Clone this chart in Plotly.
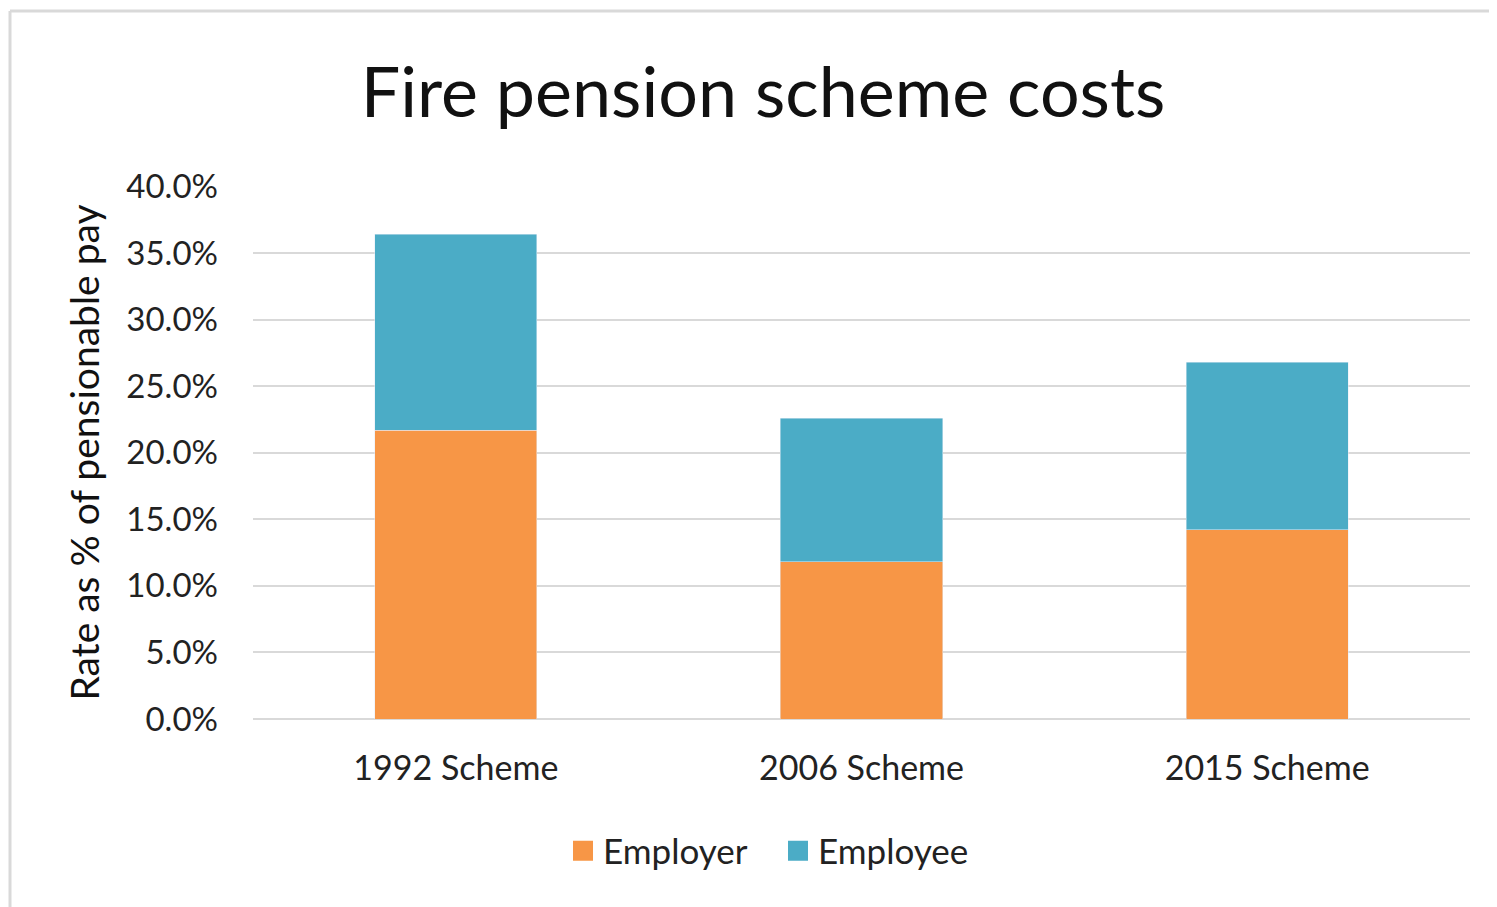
import plotly.graph_objects as go

categories = ["1992 Scheme", "2006 Scheme", "2015 Scheme"]
employer = [0.217, 0.118, 0.142]
employee = [0.147, 0.108, 0.126]
tick_vals = [0, 0.05, 0.10, 0.15, 0.20, 0.25, 0.30, 0.35, 0.40]
tick_text = ["0.0%", "5.0%", "10.0%", "15.0%", "20.0%", "25.0%", "30.0%", "35.0%", "40.0%"]
series_names = ["Employer", "Employee"]
series_colors = ["#F79646", "#4BACC6"]

FONT = "Lato, 'Open Sans', sans-serif"
OFF = 8  # page body margin offset
W, H = 1497 - OFF, 907 - OFF
# target pixel positions in the screenshot, converted to figure coordinates
L = 253 - OFF
T = 186 - OFF
R = W - (1470 - OFF)
B = H - (719 - OFF)
pw, ph = W - L - R, H - T - B


def px_x(p):
    return (p - OFF - L) / pw


def px_y(p):
    return (H - B - (p - OFF)) / ph


fig = go.Figure()
for name, vals, col in zip(series_names, [employer, employee], series_colors):
    fig.add_trace(go.Bar(name=name, x=categories, y=vals, marker_color=col,
                         showlegend=False))
# legend entries with larger square swatches
for name, col in zip(series_names, series_colors):
    fig.add_trace(go.Scatter(name=name, x=[None], y=[None], mode="markers",
                             marker=dict(symbol="square", size=16, color=col,
                                         line=dict(color=col, width=4)),
                             showlegend=True))

fig.update_layout(
    barmode="stack",
    bargap=0.6,
    width=W, height=H,
    margin=dict(l=L, r=R, t=T, b=B),
    paper_bgcolor="white",
    plot_bgcolor="white",
    font=dict(family=FONT, color="#222222"),
    title=dict(text="Fire pension scheme costs", x=(763 - OFF) / W, xanchor="center",
               y=1 - (92 - OFF) / H, yanchor="middle", xref="container", yref="container",
               font=dict(family=FONT, size=70, color="#111111")),
    legend=dict(orientation="h", x=px_x(778), xanchor="center", y=px_y(851), yanchor="middle",
                font=dict(family=FONT, size=35, color="#222222"), itemwidth=30,
                entrywidth=170, traceorder="normal"),
    xaxis=dict(showgrid=False, showline=False, ticks="",
               tickfont=dict(family=FONT, size=34, color="#222222"),
               ticklabelstandoff=26),
    yaxis=dict(range=[0, 0.4004], tickvals=tick_vals, ticktext=tick_text,
               showgrid=True, gridcolor="#d9d9d9", gridwidth=2,
               zeroline=True, zerolinecolor="#d9d9d9", zerolinewidth=2,
               tickfont=dict(family=FONT, size=33, color="#222222"),
               ticklabelstandoff=34,
               title=dict(text="Rate as % of pensionable pay", standoff=14,
                          font=dict(family=FONT, size=39, color="#111111"))),
    showlegend=True,
)

# light gray chart frame (top and left)
fig.add_shape(type="line", xref="paper", yref="paper", x0=px_x(10), x1=px_x(1510),
              y0=px_y(11), y1=px_y(11), line=dict(color="#d9d9d9", width=3))
fig.add_shape(type="line", xref="paper", yref="paper", x0=px_x(10), x1=px_x(10),
              y0=px_y(11), y1=px_y(920), line=dict(color="#d9d9d9", width=3))

fig.write_html("out.html")
